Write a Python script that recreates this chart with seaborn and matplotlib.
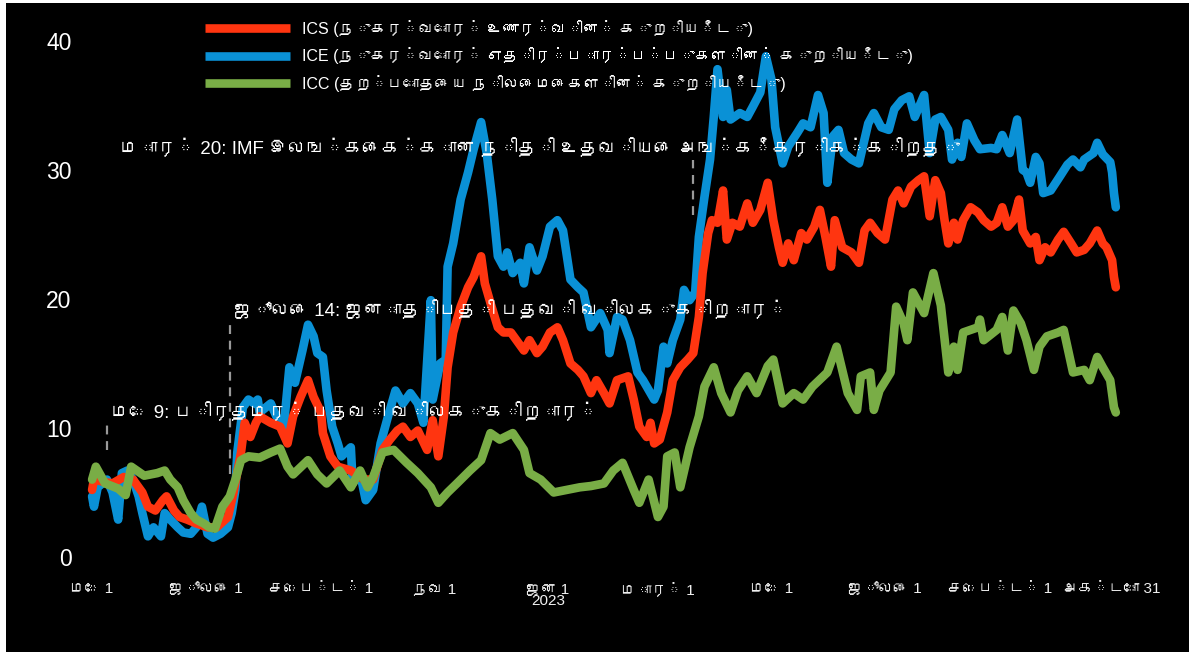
import numpy as np
import pandas as pd
import matplotlib
matplotlib.use("Agg")
import matplotlib.pyplot as plt
import seaborn as sns
from matplotlib import font_manager as fm
from matplotlib.ft2font import FT2Font
from matplotlib.patches import Rectangle

# ---------------- data (days since 2022-05-01) ----------------
start_date = "2022-05-01"

ics_day = [0, 1, 7, 11, 17, 22, 27, 30, 34, 38,
           40, 44, 47, 51, 56, 62, 67, 73, 76, 80,
           82, 85, 88, 90, 96, 101, 105, 108, 112, 116,
           119, 123, 124, 128, 132, 139, 146, 151, 156, 160,
           164, 167, 171, 175, 180, 183, 186, 189, 191, 194,
           198, 202, 205, 209, 211, 214, 218, 221, 225, 228,
           232, 235, 239, 242, 246, 250, 253, 257, 261, 264,
           268, 271, 275, 278, 282, 288, 291, 294, 298, 300,
           302, 305, 309, 312, 316, 320, 323, 326, 328, 331,
           333, 336, 339, 341, 344, 348, 352, 355, 359, 363,
           366, 369, 371, 374, 377, 381, 384, 388, 391, 394,
           397, 399, 403, 408, 412, 415, 418, 422, 426, 430,
           433, 436, 440, 444, 447, 450, 453, 456, 458, 460,
           463, 465, 468, 472, 476, 479, 483, 486, 489, 492,
           495, 498, 500, 504, 507, 509, 512, 515, 519, 522,
           526, 529, 533, 536, 540, 543, 545, 548, 549, 550]
ics_val = [5.2, 6.0, 5.8, 5.7, 6.2, 6.0, 5.0, 3.9, 3.6, 4.4,
           4.7, 3.6, 3.1, 2.9, 2.6, 2.3, 2.3, 3.1, 5.0, 8.1,
           10.4, 9.3, 10.4, 10.9, 10.4, 10.1, 8.8, 10.9, 12.4, 13.7,
           12.4, 11.2, 9.6, 7.8, 7.0, 6.7, 6.0, 6.0, 8.3, 9.1,
           9.8, 10.1, 9.3, 9.8, 8.3, 10.6, 7.8, 10.9, 14.7, 17.4,
           19.4, 20.9, 21.7, 23.3, 21.2, 19.7, 17.8, 17.4, 17.4, 16.8,
           16.0, 16.8, 15.8, 16.3, 17.4, 17.8, 16.8, 15.0, 14.5, 14.0,
           12.7, 13.7, 12.7, 11.9, 13.7, 14.0, 12.2, 10.1, 9.3, 10.4,
           8.8, 9.1, 11.2, 13.7, 14.7, 15.3, 15.8, 18.6, 22.0, 25.1,
           26.1, 25.9, 28.4, 24.6, 25.9, 25.6, 27.4, 25.9, 26.9, 29.0,
           26.1, 24.0, 22.8, 24.3, 23.0, 25.1, 24.6, 25.6, 26.9, 24.8,
           22.5, 26.1, 24.0, 23.6, 22.8, 25.3, 25.9, 25.1, 24.6, 27.7,
           28.4, 27.4, 28.7, 29.2, 29.5, 26.4, 29.2, 28.2, 26.1, 24.3,
           25.9, 24.6, 26.1, 27.1, 26.7, 26.1, 25.6, 25.9, 27.1, 25.6,
           26.1, 27.7, 25.3, 24.3, 24.8, 23.0, 24.0, 23.6, 24.6, 25.2,
           24.3, 23.6, 23.8, 24.3, 25.3, 24.3, 24.0, 23.0, 21.7, 20.9]

ice_day = [0, 1, 3, 8, 11, 14, 16, 19, 22, 25,
           27, 30, 33, 37, 39, 42, 46, 49, 53, 56,
           59, 62, 65, 69, 73, 75, 77, 78, 81, 84,
           87, 89, 90, 96, 99, 103, 106, 109, 113, 116,
           119, 121, 124, 126, 129, 132, 134, 139, 140, 144,
           147, 151, 155, 159, 163, 167, 171, 175, 178, 182,
           183, 187, 190, 191, 194, 198, 202, 205, 209, 212,
           215, 218, 221, 223, 226, 230, 232, 235, 239, 242,
           246, 250, 253, 257, 261, 264, 268, 273, 277, 278,
           282, 285, 289, 293, 296, 300, 302, 304, 307, 309,
           312, 316, 318, 321, 324, 326, 329, 332, 334, 336,
           339, 341, 343, 348, 352, 355, 359, 362, 365, 367,
           371, 374, 379, 382, 386, 390, 393, 395, 398, 401,
           404, 408, 412, 417, 420, 424, 428, 431, 435, 439,
           442, 447, 450, 453, 456, 460, 462, 465, 467, 470,
           474, 477, 483, 486, 489, 493, 497, 500, 502, 504,
           507, 509, 511, 515, 520, 524, 527, 531, 533, 538,
           540, 543, 547, 548, 549, 550]
ice_val = [4.7, 3.9, 5.4, 6.0, 5.0, 2.9, 6.5, 6.7, 6.0, 4.7,
           3.4, 1.6, 2.3, 1.6, 3.4, 2.9, 2.3, 1.9, 1.8, 2.3,
           3.9, 1.8, 1.5, 1.8, 2.3, 3.4, 5.2, 8.1, 11.6, 12.2,
           11.9, 12.2, 11.2, 11.9, 10.9, 10.1, 14.7, 13.5, 16.0, 18.0,
           17.1, 15.8, 15.5, 12.9, 10.1, 8.8, 7.8, 8.5, 5.7, 6.5,
           4.4, 5.2, 8.8, 10.9, 12.9, 11.9, 12.7, 11.9, 10.4, 19.9,
           12.2, 15.0, 15.3, 22.5, 24.3, 27.7, 29.8, 31.6, 33.7, 31.3,
           27.7, 23.3, 22.5, 23.6, 22.0, 22.8, 21.2, 24.0, 22.2, 23.3,
           25.6, 26.1, 25.3, 21.5, 20.9, 20.5, 17.8, 18.9, 17.6, 15.8,
           18.6, 18.4, 16.8, 14.3, 13.7, 12.7, 12.2, 12.9, 16.3, 15.0,
           16.8, 18.4, 20.7, 19.9, 20.5, 24.8, 27.9, 30.8, 34.1, 37.8,
           34.1, 36.2, 33.9, 34.4, 34.1, 34.9, 36.0, 38.8, 37.0, 33.3,
           30.5, 31.8, 32.9, 33.6, 33.3, 35.8, 34.4, 29.0, 32.6, 33.1,
           31.3, 30.8, 30.5, 33.6, 34.4, 33.3, 33.1, 34.7, 35.4, 35.7,
           34.1, 35.8, 31.3, 33.9, 34.1, 33.1, 30.8, 32.1, 31.0, 33.6,
           32.3, 31.6, 31.7, 31.6, 32.7, 31.3, 33.9, 30.0, 29.8, 29.0,
           31.0, 30.5, 28.2, 28.4, 29.5, 30.4, 30.8, 30.2, 30.8, 31.3,
           32.1, 31.2, 30.6, 29.8, 28.2, 27.1]

icc_day = [0, 2, 7, 14, 18, 21, 28, 35, 39, 42,
           46, 49, 53, 56, 60, 63, 66, 70, 74, 77,
           80, 84, 90, 96, 101, 105, 108, 116, 121, 126,
           133, 139, 144, 148, 151, 156, 162, 169, 175, 182,
           186, 191, 196, 203, 209, 214, 219, 226, 232, 235,
           241, 248, 255, 262, 268, 275, 280, 285, 291, 294,
           299, 304, 307, 309, 313, 316, 321, 326, 329, 334,
           338, 343, 347, 352, 357, 363, 366, 371, 377, 382,
           387, 395, 400, 406, 411, 413, 418, 420, 423, 429,
           432, 436, 438, 441, 447, 452, 456, 460, 463, 465,
           468, 476, 477, 479, 486, 489, 492, 495, 499, 502,
           506, 509, 513, 519, 522, 527, 533, 536, 540, 543,
           547, 549, 550]
icc_val = [6.0, 7.0, 5.7, 5.3, 4.8, 7.0, 6.3, 6.5, 6.7, 6.0,
           5.4, 4.4, 3.4, 2.9, 2.6, 2.3, 2.2, 3.9, 4.7, 6.0,
           7.5, 7.8, 7.7, 8.1, 8.4, 7.0, 6.4, 7.5, 6.4, 5.7,
           6.7, 5.4, 6.7, 5.4, 6.2, 8.1, 8.3, 7.3, 6.5, 5.4,
           4.2, 5.0, 5.7, 6.7, 7.5, 9.6, 9.1, 9.6, 8.3, 6.5,
           6.0, 5.0, 5.2, 5.4, 5.5, 5.7, 6.7, 7.3, 5.2, 4.2,
           6.0, 3.1, 3.9, 7.8, 8.1, 5.4, 8.5, 10.9, 13.2, 14.7,
           12.7, 11.2, 12.9, 14.0, 12.7, 14.8, 15.3, 11.9, 12.7, 12.2,
           13.2, 14.3, 16.3, 12.7, 11.4, 14.0, 14.3, 11.4, 12.9, 14.3,
           19.4, 18.1, 16.8, 20.5, 18.9, 22.0, 19.5, 14.3, 16.3, 14.5,
           17.4, 17.8, 18.4, 16.8, 17.6, 18.6, 16.0, 19.1, 18.1, 16.8,
           14.5, 16.3, 17.1, 17.4, 17.6, 14.3, 14.5, 13.7, 15.5, 14.7,
           13.7, 11.6, 11.2]

series_labels = ["ICS (நுகர்வோர் உணர்வின் குறியீடு)",
                 "ICE (நுகர்வோர் எதிர்பார்ப்புகளின் குறியீடு)",
                 "ICC (தற்போதைய நிலைமைகளின் குறியீடு)"]
series_colors = ["#ff3510", "#0a91d6", "#79ad46"]

tick_dates = ["2022-05-01", "2022-07-01", "2022-09-01", "2022-11-01", "2023-01-01",
              "2023-03-01", "2023-05-01", "2023-07-01", "2023-09-01", "2023-10-31"]
tick_labels = ["மே 1", "ஜூலை 1", "செப்ட் 1", "நவ 1", "ஜன 1\n2023",
               "மார் 1", "மே 1", "ஜூலை 1", "செப்ட் 1", "அக்டோ 31"]
y_ticks = [0, 10, 20, 30, 40]

events = [
    ("2022-05-09", "மே 9: பிரதமர் பதவி விலகுகிறார்"),
    ("2022-07-14", "ஜூலை 14: ஜனாதிபதி பதவி விலகுகிறார்"),
    ("2023-03-20", "மார் 20: IMF இலங்கைக்கான நிதி உதவியை அங்கீகரிக்கிறது"),
]

# ---------------- fonts ----------------
sns.set_theme(style="dark")
tamil_fams = []
for path in fm.findSystemFonts():
    try:
        f = FT2Font(path)
        if 0x0BA4 in f.get_charmap():
            name = fm.FontProperties(fname=path).get_name()
            if name not in tamil_fams:
                tamil_fams.append(name)
    except Exception:
        pass
families = ["Liberation Sans"] + tamil_fams + ["DejaVu Sans"]
plt.rcParams["font.family"] = families
plt.rcParams["axes.unicode_minus"] = False

# ---------------- frames ----------------
t0 = pd.Timestamp(start_date)
def to_df(days, vals):
    return pd.DataFrame({"date": t0 + pd.to_timedelta(np.array(days, dtype=float), unit="D"),
                         "value": vals})

dfs = [to_df(ics_day, ics_val), to_df(ice_day, ice_val), to_df(icc_day, icc_val)]

# ---------------- figure ----------------
fig = plt.figure(figsize=(11.89, 6.52), dpi=100)
fig.patch.set_facecolor("white")
fig.patches.append(Rectangle((6 / 1189, 0), 1 - 6 / 1189, 1 - 3 / 652,
                             transform=fig.transFigure, facecolor="black",
                             edgecolor="none", zorder=-10))
ax = fig.add_axes([80 / 1189, 95 / 652, 1060 / 1189, 542 / 652])
ax.set_facecolor("black")

draw_order = [1, 0, 2]
for i in draw_order:
    sns.lineplot(data=dfs[i], x="date", y="value", ax=ax, color=series_colors[i],
                 linewidth=6.2, label=series_labels[i], solid_capstyle="round",
                 solid_joinstyle="round", zorder=3 + draw_order.index(i))

ax.set_xlim(t0 - pd.Timedelta(days=6.5), t0 + pd.Timedelta(days=563))
ax.set_ylim(0, 42)
ax.set_yticks(y_ticks)
ax.set_yticklabels([str(v) for v in y_ticks])
ax.set_xticks(pd.to_datetime(tick_dates))
ax.set_xticklabels(tick_labels, linespacing=0.85)
ax.tick_params(axis="y", length=0, pad=6, labelsize=16.5, colors="white")
ax.tick_params(axis="x", length=0, pad=18, labelsize=11, colors="#f0f0f0")
ax.set_xlabel("")
ax.set_ylabel("")
ax.grid(False)
for s in ax.spines.values():
    s.set_visible(False)

# event annotations
ev_lines = [(8.3, 10.2), (6.4, 18.4), (26.5, 30.8)]
ev_text_pos = [("2022-05-11", 11.2), ("2022-07-16", 19.1), ("2022-05-16", 31.7)]
for (d, txt), (y0, y1), (td, ty) in zip(events, ev_lines, ev_text_pos):
    dt = pd.Timestamp(d)
    ax.plot([dt, dt], [y0, y1], color="#9a9a9a", linewidth=1.6,
            linestyle=(0, (4, 3)), zorder=2)
    ax.text(pd.Timestamp(td), ty, txt, color="white", fontsize=13.5,
            ha="left", va="center", zorder=10)

handles, labels = ax.get_legend_handles_labels()
order = [labels.index(l) for l in series_labels]
leg = ax.legend([handles[k] for k in order], [labels[k] for k in order],
                loc="upper left", bbox_to_anchor=(205 / 1189, 1 - 20 / 652),
                bbox_transform=fig.transFigure, frameon=False, fontsize=11.5,
                handlelength=5.3, handletextpad=0.8, labelspacing=0.65,
                borderpad=0, borderaxespad=0)
for t in leg.get_texts():
    t.set_color("white")
for h in leg.get_lines():
    h.set_linewidth(6.2)
    h.set_solid_capstyle("butt")

fig.savefig("out.png", dpi=100, facecolor=fig.get_facecolor())
